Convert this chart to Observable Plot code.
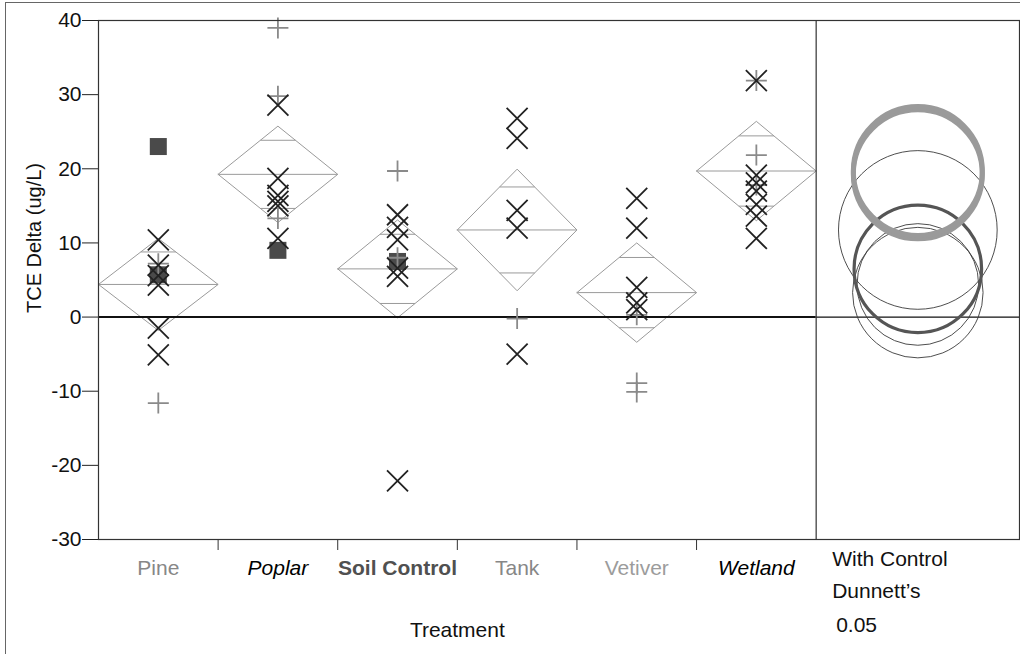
<!DOCTYPE html>
<html>
<head>
<meta charset="utf-8">
<script src="https://cdn.jsdelivr.net/npm/d3@7"></script>
<script src="https://cdn.jsdelivr.net/npm/@observablehq/plot@0.6"></script>
<style>
  html, body { margin: 0; padding: 0; background: #fff; }
  #wrap { position: relative; width: 1020px; height: 654px; overflow: hidden;
          font-family: 'Liberation Sans', Arial, Helvetica, sans-serif; }
  #chart { position: absolute; left: 0; top: 0; }
  #outline { position: absolute; left: 5px; top: 2px; right: -2px; bottom: -2px;
             border-left: 1px solid #666; border-top: 1px solid #666; pointer-events: none; }
  #ylabel { position: absolute; left: 34px; top: 238px; transform: translate(-50%, -50%) rotate(-90deg);
            font-size: 20px; color: #111; white-space: nowrap; line-height: 1; }
  #chart svg g[aria-label="y-axis tick label"] text { font-size: 21px; }
</style>
</head>
<body>
<div id="wrap"><div id="chart"></div><div id="ylabel"></div><div id="outline"></div></div>
<script>
// ---- data ----
const categories   = ["Pine", "Poplar", "Soil Control", "Tank", "Vetiver", "Wetland"];
const groupMeans   = [4.4, 19.25, 6.5, 11.75, 3.3, 19.7];
const ciHalfWidths = [6.2, 6.5, 6.6, 8.2, 6.7, 6.7];
const circleRadii  = [8.2, 8.7, 8.6, 10.7, 8.8, 8.7];
const circleKinds  = ["thin", "sig", "control", "thin", "thin", "sig"];
const labelColors  = ["#878787", "#000000", "#505050", "#878787", "#9c9c9c", "#000000"];
const labelStyles  = ["normal", "italic", "normal", "normal", "normal", "italic"];
const labelWeights = ["normal", "normal", "bold", "normal", "normal", "normal"];

const pineValues     = [23.0, 10.4, 7.0, 7.2, 5.7, 5.6, 4.3, -1.5, -5.1, -11.6];
const pineMarkers    = ["square", "x", "x", "plus", "square", "x", "x", "x", "x", "plus"];
const poplarValues   = [39.0, 29.8, 28.6, 18.7, 16.4, 15.6, 15.0, 13.3, 10.6, 9.0];
const poplarMarkers  = ["plus", "plus", "x", "x", "x", "x", "x", "plus", "x", "square"];
const soilValues     = [19.7, 13.8, 12.1, 10.4, 8.0, 7.5, 6.6, 5.5, -22.1];
const soilMarkers    = ["plus", "x", "x", "x", "plus", "square", "x", "x", "x"];
const tankValues     = [26.8, 24.1, 14.4, 12.0, -0.2, -5.0];
const tankMarkers    = ["x", "x", "x", "x", "plus", "x"];
const vetiverValues  = [16.0, 12.0, 4.0, 1.9, 1.0, 0.3, -8.9, -10.1];
const vetiverMarkers = ["x", "x", "x", "x", "x", "plus", "plus", "plus"];
const wetlandValues  = [31.9, 31.9, 21.85, 19.15, 18.1, 17.8, 17.0, 15.2, 13.6, 10.6];
const wetlandMarkers = ["x", "plus", "plus", "x", "x", "plus", "x", "x", "x", "x"];

const yTicks = [40, 30, 20, 10, 0, -10, -20, -30];
const yDomain = [-30, 40];
const yLabel = "TCE Delta (ug/L)";
const xLabel = "Treatment";
const panelLines = ["With Control", "Dunnett\u2019s", "0.05"];

// ---- layout ----
const W = 1020, H = 654, mL = 98, mR = 1, mT = 20, mB = 115;
const panelWidth = 1.7;            // comparison-circle panel, in category widths
const nCat = categories.length;
const pxPerUnit = (H - mT - mB) / (yDomain[1] - yDomain[0]);
const FONT = "'Liberation Sans', Arial, Helvetica, sans-serif";

// ---- derived tables ----
const groupValues  = [pineValues, poplarValues, soilValues, tankValues, vetiverValues, wetlandValues];
const groupMarkers = [pineMarkers, poplarMarkers, soilMarkers, tankMarkers, vetiverMarkers, wetlandMarkers];
const points = categories.flatMap((c, i) =>
  groupValues[i].map((v, j) => ({pos: i + 0.5, value: v, marker: groupMarkers[i][j]})));

const diamonds = categories.flatMap((c, i) => {
  const m = groupMeans[i], h = ciHalfWidths[i];
  return [[i, m], [i + 0.5, m + h], [i + 1, m], [i + 0.5, m - h], [i, m]]
    .map(([x, y]) => ({g: i, x, y}));
});
const meanLines = categories.map((c, i) => ({x1: i, x2: i + 1, y: groupMeans[i]}));
const k = Math.SQRT1_2, hw = (1 - k) / 2;
const overlapLines = categories.flatMap((c, i) => [1, -1].map(s => ({
  x1: i + 0.5 - hw, x2: i + 0.5 + hw, y: groupMeans[i] + s * ciHalfWidths[i] * k})));

const circles = categories.map((c, i) => ({
  pos: nCat + panelWidth / 2, mean: groupMeans[i], r: circleRadii[i] * pxPerUnit, kind: circleKinds[i]}));

const labels = categories.map((name, i) => ({
  name, pos: i + 0.5, color: labelColors[i], style: labelStyles[i], weight: labelWeights[i]}));

// ---- custom symbols (r = half extent) ----
const rad = s => Math.sqrt(s / Math.PI);
const symTimes  = {draw(c, s) { const r = rad(s); c.moveTo(-r, -r); c.lineTo(r, r); c.moveTo(-r, r); c.lineTo(r, -r); }};
const symPlus   = {draw(c, s) { const r = rad(s); c.moveTo(-r, 0); c.lineTo(r, 0); c.moveTo(0, -r); c.lineTo(0, r); }};
const symSquare = {draw(c, s) { const r = rad(s); c.rect(-r, -r, 2 * r, 2 * r); }};

const labelMarks = labels.map(d => Plot.text([d], {
  x: "pos", text: "name", frameAnchor: "bottom", dy: 35.5,
  fill: d.color, fontStyle: d.style, fontWeight: d.weight, fontSize: 21
}));

const circleStyle = {
  thin:    {stroke: "#3a3a3a", strokeWidth: 0.9},
  control: {stroke: "#555555", strokeWidth: 3.2},
  sig:     {stroke: "#9a9a9a", strokeWidth: 5}
};
const circleMarks = ["thin", "control", "sig"].map(kind => Plot.dot(
  circles.filter(d => d.kind === kind),
  {x: "pos", y: "mean", r: "r", fill: "none", ...circleStyle[kind]}));

const chart = Plot.plot({
  width: W, height: H,
  marginLeft: mL, marginRight: mR, marginTop: mT, marginBottom: mB,
  style: {fontFamily: FONT, fontSize: "21px", color: "#111", background: "transparent", overflow: "visible"},
  x: {domain: [0, nCat + panelWidth]},
  y: {domain: yDomain},
  r: {type: "identity"},
  marks: [
    Plot.axisY({ticks: yTicks, tickSize: 16, tickPadding: 1, label: null, fontSize: 21, stroke: "#222",
                tickFormat: d => String(d)}),
    Plot.axisX({ticks: d3.range(1, nCat), tickSize: 11, tickFormat: () => "", label: null, stroke: "#333"}),
    // diamonds
    Plot.line(diamonds, {x: "x", y: "y", z: "g", stroke: "#9a9a9a", strokeWidth: 1}),
    Plot.link(meanLines, {x1: "x1", x2: "x2", y1: "y", y2: "y", stroke: "#9a9a9a", strokeWidth: 1}),
    Plot.link(overlapLines, {x1: "x1", x2: "x2", y1: "y", y2: "y", stroke: "#9a9a9a", strokeWidth: 1}),
    // zero reference lines
    Plot.ruleY([0], {x1: 0, x2: nCat, stroke: "#111", strokeWidth: 2}),
    Plot.ruleY([0], {x1: nCat, x2: nCat + panelWidth, stroke: "#111", strokeWidth: 1.2}),
    // points
    Plot.dot(points.filter(d => d.marker === "square"), {x: "pos", y: "value", symbol: symSquare, r: 8.5, fill: "#4a4a4a", stroke: "none"}),
    Plot.dot(points.filter(d => d.marker === "plus"), {x: "pos", y: "value", symbol: symPlus, r: 10.5, fill: "none", stroke: "#8a8a8a", strokeWidth: 1.8}),
    Plot.dot(points.filter(d => d.marker === "x"), {x: "pos", y: "value", symbol: symTimes, r: 10.5, fill: "none", stroke: "#222", strokeWidth: 1.8}),
    // comparison circles
    ...circleMarks,
    // frame and panel divider
    Plot.frame({stroke: "#333", strokeWidth: 1.2}),
    Plot.ruleX([nCat], {stroke: "#333", strokeWidth: 1.2}),
    // category labels
    ...labelMarks,
    Plot.text([xLabel], {x: nCat / 2, frameAnchor: "bottom", dy: 97.5, fill: "#111", fontSize: 21}),
    Plot.text([panelLines[0]], {x: nCat, frameAnchor: "bottom", textAnchor: "start", dx: 16, dy: 26.5, fill: "#111", fontSize: 21}),
    Plot.text([panelLines[1]], {x: nCat, frameAnchor: "bottom", textAnchor: "start", dx: 16, dy: 58.5, fill: "#111", fontSize: 21}),
    Plot.text([panelLines[2]], {x: nCat, frameAnchor: "bottom", textAnchor: "start", dx: 20, dy: 92.5, fill: "#111", fontSize: 21})
  ]
});
document.getElementById("chart").append(chart);
document.getElementById("ylabel").textContent = yLabel;
</script>
</body>
</html>
